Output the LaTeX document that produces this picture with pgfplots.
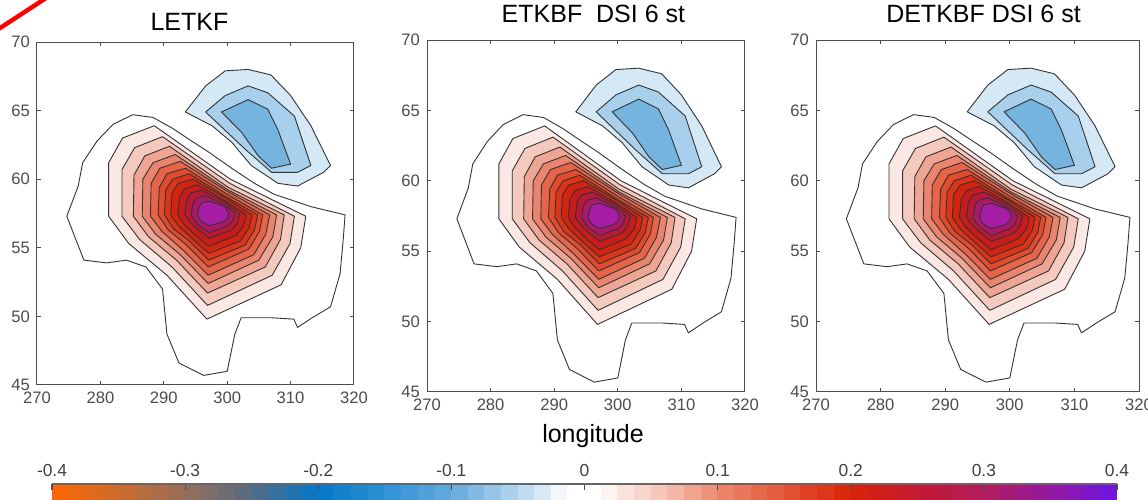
\documentclass[border=0pt]{standalone}
\usepackage{fontspec}
\setmainfont{Liberation Sans}
\usepackage{pgfplots}
\pgfplotsset{compat=1.18}

% contour fill colours (red levels, blue levels)
\definecolor{r1}{RGB}{251,232,228}
\definecolor{r2}{RGB}{245,202,190}
\definecolor{r3}{RGB}{239,165,148}
\definecolor{r4}{RGB}{234,132,110}
\definecolor{r5}{RGB}{230,100,72}
\definecolor{r6}{RGB}{226,75,45}
\definecolor{r7}{RGB}{221,52,25}
\definecolor{r8}{RGB}{212,36,15}
\definecolor{r9}{RGB}{200,28,28}
\definecolor{r10}{RGB}{186,24,55}
\definecolor{r11}{RGB}{172,24,105}
\definecolor{r12}{RGB}{165,30,165}
\definecolor{b1}{RGB}{212,232,245}
\definecolor{b2}{RGB}{168,208,236}
\definecolor{b3}{RGB}{118,180,224}

\pgfplotsset{
  lev/.style={draw=black!80, line width=0.45pt, line join=round, fill=#1},
  panel/.style={
    scale only axis, anchor=south west, axis on top,
    xmin=270, xmax=320, ymin=45, ymax=70,
    xtick={270,280,...,320}, ytick={45,50,...,70},
    tick align=inside, major tick length=2.2pt,
    axis line style={draw=black!70, line width=0.5pt},
    every tick/.style={black!70, line width=0.5pt},
    tick label style={font=\fontsize{8.3}{9}\selectfont, text=black!70},
    /pgf/number format/assume math mode=true,
    title style={font=\fontsize{12.5}{14}\selectfont, at={(axis description cs:0.5,1)}, anchor=base},
  },
}

% analysis increment contours (lon, lat), outermost first
\newcommand{\increment}{%
\addplot[lev=white] coordinates {(274.7,57.3) (276.5,59.5) (277.2,61.2) (279.5,62.8) (282.0,64.0) (285.1,64.7) (288.3,64.5) (291.4,63.7) (294.0,62.9) (297.0,62.0) (300.7,60.8) (304.3,59.7) (307.4,58.9) (310.0,58.5) (313.2,58.0) (318.6,57.4) (318.3,55.6) (317.8,53.1) (316.3,50.7) (313.4,49.9) (311.1,49.2) (310.5,49.8) (307.0,49.9) (302.2,49.9) (301.2,48.7) (300.0,46.0) (296.3,45.7) (292.4,46.6) (290.5,48.7) (289.8,52.0) (287.2,53.6) (284.1,54.1) (281.0,53.9) (277.4,54.1)} --cycle;
\addplot[lev=r1] coordinates {(281.3,57.3) (281.3,61.2) (283.5,63.0) (288.5,63.9) (300.5,60.0) (312.4,57.3) (311.6,55.0) (308.5,52.3) (296.8,49.8) (290.5,53.0) (284.5,55.3)} --cycle;
\addplot[lev=r2] coordinates {(283.4,57.3) (283.4,60.7) (285.4,62.3) (289.8,63.1) (300.4,59.7) (310.6,57.3) (309.9,55.3) (307.1,53.0) (296.9,50.8) (291.3,53.6) (286.2,55.6)} --cycle;
\addplot[lev=r3] coordinates {(285.2,57.3) (285.3,60.3) (287.0,61.7) (290.9,62.4) (300.2,59.4) (309.0,57.4) (308.4,55.6) (306.0,53.6) (296.9,51.7) (292.0,54.1) (287.6,55.8)} --cycle;
\addplot[lev=r4] coordinates {(286.6,57.3) (286.7,60.0) (288.3,61.2) (291.8,61.8) (300.2,59.2) (307.8,57.4) (307.2,55.8) (305.0,54.1) (297.0,52.4) (292.6,54.5) (288.7,56.0)} --cycle;
\addplot[lev=r5] coordinates {(287.9,57.3) (288.0,59.7) (289.4,60.8) (292.6,61.3) (300.1,59.1) (306.7,57.4) (306.1,56.0) (304.2,54.5) (297.0,53.0) (293.1,54.8) (289.7,56.2)} --cycle;
\addplot[lev=r6] coordinates {(289.1,57.4) (289.3,59.4) (290.5,60.4) (293.4,60.8) (300.0,58.9) (305.6,57.4) (305.1,56.2) (303.4,54.9) (297.0,53.6) (293.6,55.2) (290.7,56.3)} --cycle;
\addplot[lev=r7] coordinates {(290.1,57.4) (290.3,59.2) (291.4,60.0) (294.0,60.4) (299.9,58.7) (304.8,57.4) (304.3,56.3) (302.8,55.2) (297.1,54.1) (294.0,55.5) (291.5,56.4)} --cycle;
\addplot[lev=r8] coordinates {(291.1,57.4) (291.3,59.0) (292.3,59.7) (294.6,60.0) (299.9,58.6) (303.9,57.4) (303.5,56.5) (302.1,55.5) (297.1,54.6) (294.4,55.7) (292.3,56.6)} --cycle;
\addplot[lev=r9] coordinates {(292.2,57.4) (292.5,58.7) (293.3,59.3) (295.3,59.6) (299.8,58.4) (303.0,57.4) (302.6,56.6) (301.4,55.9) (297.1,55.1) (294.8,56.0) (293.2,56.7)} --cycle;
\addplot[lev=r10] coordinates {(293.3,57.4) (293.6,58.5) (294.3,59.0) (296.0,59.2) (299.7,58.3) (302.0,57.5) (301.6,56.8) (300.7,56.3) (297.2,55.7) (295.2,56.4) (294.1,56.9)} --cycle;
\addplot[lev=r11] coordinates {(294.3,57.4) (294.6,58.2) (295.1,58.6) (296.6,58.8) (299.7,58.1) (301.2,57.5) (300.8,56.9) (300.0,56.6) (297.2,56.1) (295.6,56.6) (294.8,57.0)} --cycle;
\addplot[lev=r12] coordinates {(295.3,57.4) (295.6,58.0) (296.0,58.3) (297.2,58.4) (299.6,58.0) (300.3,57.5) (300.0,57.1) (299.4,56.9) (297.2,56.6) (296.0,56.9) (295.6,57.1)} --cycle;
\addplot[lev=b1] coordinates {(293.4,64.9) (296.6,66.8) (299.7,67.9) (303.3,68.0) (306.9,67.6) (310.0,66.1) (313.2,63.9) (316.3,61.0) (315.2,60.5) (311.1,59.5) (308.0,59.7) (303.8,61.0) (300.7,62.7) (297.6,63.9)} --cycle;
\addplot[lev=b2] coordinates {(296.6,64.9) (299.7,66.1) (303.3,66.8) (306.4,66.3) (310.6,64.6) (313.2,61.0) (311.1,60.5) (307.0,60.5) (302.8,62.2)} --cycle;
\addplot[lev=b3] coordinates {(299.1,64.9) (303.3,65.8) (306.4,65.1) (308.0,63.6) (310.0,61.1) (307.0,60.8) (304.9,61.7) (302.3,63.4)} --cycle;
}

\begin{document}
\begin{tikzpicture}
\useasboundingbox (0,0) rectangle (574pt,249.5pt);

\draw[red, line width=2.2pt] (-3pt,233.5pt) -- (24pt,251.1pt);

\begin{axis}[panel, at={(18.5pt,57pt)}, width=158.5pt, height=171.5pt,
  title={LETKF}, title style={yshift=0pt, xshift=-3pt}]
\increment
\end{axis}

\begin{axis}[panel, at={(213.5pt,53.5pt)}, width=159pt, height=176pt,
  title={ETKBF~ DSI 6 st}, title style={yshift=2.5pt, xshift=3.7pt},
  xlabel={longitude},
  xlabel style={font=\fontsize{12.5}{14}\selectfont, at={(axis description cs:0.5,0)}, anchor=base, yshift=-25.5pt, xshift=3.5pt}]
\increment
\end{axis}

\begin{axis}[panel, at={(408pt,53.5pt)}, width=161.5pt, height=176pt,
  title={DETKBF DSI 6 st}, title style={yshift=2.5pt, xshift=3pt}]
\increment
\end{axis}

% colour scale, 64 steps
\begin{axis}[at={(26pt,0pt)}, anchor=south west, scale only axis, axis on top,
  width=532.5pt, height=7.5pt,
  xmin=-0.4, xmax=0.4, ymin=0, ymax=1,
  axis x line*=top, axis y line=none,
  xtick={-0.4,-0.3,-0.2,-0.1,0,0.1,0.2,0.3,0.4}, ytick=\empty,
  tick align=inside, major tick length=3pt,
  x axis line style={draw=black!60, line width=0.6pt, -},
  every tick/.style={black!70, line width=0.6pt},
  xticklabel style={font=\fontsize{8.7}{10}\selectfont, text=black!75,
    /pgf/number format/fixed, /pgf/number format/precision=1},
  /pgf/number format/assume math mode=true,
  colormap={cbar}{rgb255(0cm)=(255,102,0) rgb255(0.5cm)=(205,108,45)
    rgb255(1cm)=(150,110,90) rgb255(1.5cm)=(85,108,130) rgb255(2cm)=(5,120,200)
    rgb255(2.5cm)=(45,145,212) rgb255(3cm)=(100,170,222) rgb255(3.5cm)=(180,214,238)
    rgb255(3.75cm)=(228,240,248) rgb255(3.88cm)=(255,255,255) rgb255(4.12cm)=(255,255,255)
    rgb255(4.25cm)=(252,232,228) rgb255(4.5cm)=(248,208,198) rgb255(5cm)=(237,138,112)
    rgb255(5.5cm)=(228,85,55) rgb255(6cm)=(218,35,8) rgb255(6.5cm)=(195,25,50)
    rgb255(7cm)=(178,28,92) rgb255(7.5cm)=(148,25,160) rgb255(8cm)=(110,20,230)},
  point meta min=-0.4, point meta max=0.4]
\addplot[surf, shader=flat mean, mesh/cols=65, point meta=x] coordinates {
(-0.4,0) (-0.3875,0) (-0.375,0) (-0.3625,0) (-0.35,0) (-0.3375,0) (-0.325,0) (-0.3125,0) (-0.3,0) (-0.2875,0) (-0.275,0) (-0.2625,0) (-0.25,0) (-0.2375,0) (-0.225,0) (-0.2125,0) (-0.2,0) (-0.1875,0) (-0.175,0) (-0.1625,0) (-0.15,0) (-0.1375,0) (-0.125,0) (-0.1125,0) (-0.1,0) (-0.0875,0) (-0.075,0) (-0.0625,0) (-0.05,0) (-0.0375,0) (-0.025,0) (-0.0125,0) (0,0) (0.0125,0) (0.025,0) (0.0375,0) (0.05,0) (0.0625,0) (0.075,0) (0.0875,0) (0.1,0) (0.1125,0) (0.125,0) (0.1375,0) (0.15,0) (0.1625,0) (0.175,0) (0.1875,0) (0.2,0) (0.2125,0) (0.225,0) (0.2375,0) (0.25,0) (0.2625,0) (0.275,0) (0.2875,0) (0.3,0) (0.3125,0) (0.325,0) (0.3375,0) (0.35,0) (0.3625,0) (0.375,0) (0.3875,0) (0.4,0)
(-0.4,1) (-0.3875,1) (-0.375,1) (-0.3625,1) (-0.35,1) (-0.3375,1) (-0.325,1) (-0.3125,1) (-0.3,1) (-0.2875,1) (-0.275,1) (-0.2625,1) (-0.25,1) (-0.2375,1) (-0.225,1) (-0.2125,1) (-0.2,1) (-0.1875,1) (-0.175,1) (-0.1625,1) (-0.15,1) (-0.1375,1) (-0.125,1) (-0.1125,1) (-0.1,1) (-0.0875,1) (-0.075,1) (-0.0625,1) (-0.05,1) (-0.0375,1) (-0.025,1) (-0.0125,1) (0,1) (0.0125,1) (0.025,1) (0.0375,1) (0.05,1) (0.0625,1) (0.075,1) (0.0875,1) (0.1,1) (0.1125,1) (0.125,1) (0.1375,1) (0.15,1) (0.1625,1) (0.175,1) (0.1875,1) (0.2,1) (0.2125,1) (0.225,1) (0.2375,1) (0.25,1) (0.2625,1) (0.275,1) (0.2875,1) (0.3,1) (0.3125,1) (0.325,1) (0.3375,1) (0.35,1) (0.3625,1) (0.375,1) (0.3875,1) (0.4,1)};
\end{axis}
\end{tikzpicture}
\end{document}
